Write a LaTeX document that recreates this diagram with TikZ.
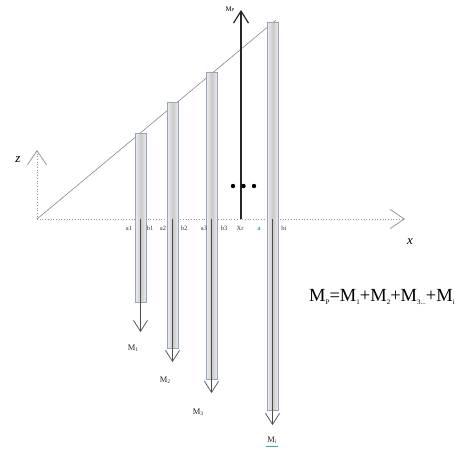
\documentclass[tikz,border=0pt]{standalone}
\usepackage{fontspec}
\setmainfont{Liberation Serif}
\usetikzlibrary{arrows.meta}
\definecolor{barborder}{RGB}{150,165,195}
\definecolor{axisgray}{RGB}{150,150,150}
\definecolor{tealmark}{RGB}{40,170,170}
\newcommand\tinysub[1]{\raisebox{-0.3ex}{\fontsize{5.5}{6}\selectfont #1}}
\newcommand\formsub[1]{\raisebox{-0.3ex}{\fontsize{7}{7}\selectfont #1}}
\tikzset{
  barbox/.style={draw=barborder, line width=0.6pt, shading=axis, left color=gray!14, right color=gray!14, middle color=gray!42, inner sep=0pt, anchor=north west, minimum width=11pt},
  downarrow/.style={draw=black!70, line width=0.6pt, -{Straight Barb[length=11pt,width=14pt,line width=0.7pt]}},
  uparrow/.style={draw=black!85, line width=1.2pt, -{Straight Barb[length=12pt,width=15pt,line width=1.2pt]}},
  axisline/.style={draw=axisgray, line width=0.7pt, dotted, -{Straight Barb[length=14pt,width=19pt,line width=0.8pt,sep=0pt]}},
  smalllab/.style={font=\fontsize{6.5}{7}\selectfont, inner sep=0pt, text=black!80},
  mlab/.style={font=\fontsize{8.5}{10}\selectfont, inner sep=0pt, text=black!85}
}
\begin{document}
\begin{tikzpicture}[x=1pt,y=-1pt]
\useasboundingbox (0,0) rectangle (470,451);
% origin and axes
\coordinate (O) at (37,219);
\coordinate (xend) at (405,219);
\coordinate (zend) at (37,150);
\draw[axisline] (O) -- (xend);
\draw[axisline] (O) -- (zend);
\node[font=\itshape\fontsize{13}{14}\selectfont, inner sep=0pt] (xlab) at (410,242) {x};
\node[font=\itshape\fontsize{13}{14}\selectfont, inner sep=0pt] (zlab) at (18,160) {z};
% diagonal
\coordinate (dtop) at (276,20);
\draw[axisgray!80!black, line width=0.5pt] (O) -- (dtop);
% bars
\node[barbox, minimum height=169pt] (bar1) at (135,133) {};
\node[barbox, minimum height=246pt] (bar2) at (167,102) {};
\node[barbox, minimum height=307pt] (bar3) at (206,72) {};
\node[barbox, minimum height=388pt] (bar4) at (267,22) {};
% down arrows
\coordinate (s1) at (140.5,219); \coordinate (e1) at (140.5,332);
\coordinate (s2) at (172.5,219); \coordinate (e2) at (172.5,362);
\coordinate (s3) at (211.5,219); \coordinate (e3) at (211.5,393);
\coordinate (s4) at (272.5,219); \coordinate (e4) at (272.5,425);
\draw[downarrow] (s1) -- (e1);
\draw[downarrow] (s2) -- (e2);
\draw[downarrow] (s3) -- (e3);
\draw[downarrow] (s4) -- (e4);
% Mp arrow
\coordinate (ps) at (241,219); \coordinate (pe) at (241,10);
\draw[uparrow] (ps) -- (pe);
\node[inner sep=0pt, font=\fontsize{7}{8}\selectfont] (mplab) at (230,9) {M{\fontsize{4.5}{5}\selectfont P}};
% dots
\fill (233,186) circle (2.2pt);
\fill (243.5,186) circle (2.2pt);
\fill (254,186) circle (2.2pt);
% axis labels
\node[smalllab] (a1) at (129,228) {a1};
\node[smalllab] (b1) at (150,228) {b1};
\node[smalllab] (a2) at (163,228) {a2};
\node[smalllab] (b2) at (184,228) {b2};
\node[smalllab] (a3) at (204,228) {a3};
\node[smalllab] (b3) at (224,228) {b3};
\node[smalllab] (xr) at (240,228) {Xr};
\node[smalllab, text=tealmark] (ai) at (259,229) {\textbf{a}};
\node[smalllab] (bi) at (284,228) {bi};
% M labels
\node[mlab] (m1) at (133,348) {M\tinysub{1}};
\node[mlab] (m2) at (165,380) {M\tinysub{2}};
\node[mlab] (m3) at (198,412) {M\tinysub{3}};
\node[mlab] (mi) at (272,440) {M\tinysub{i}};
\draw[tealmark, line width=1pt] (266,446) -- (278,446);
% formula
\node[inner sep=0pt, font=\fontsize{18.5}{19}\selectfont, anchor=west] (formula) at (309,297) {M\formsub{P}=M\formsub{1}+M\formsub{2}+M\formsub{3...}+M\formsub{i}};
\end{tikzpicture}
\end{document}
